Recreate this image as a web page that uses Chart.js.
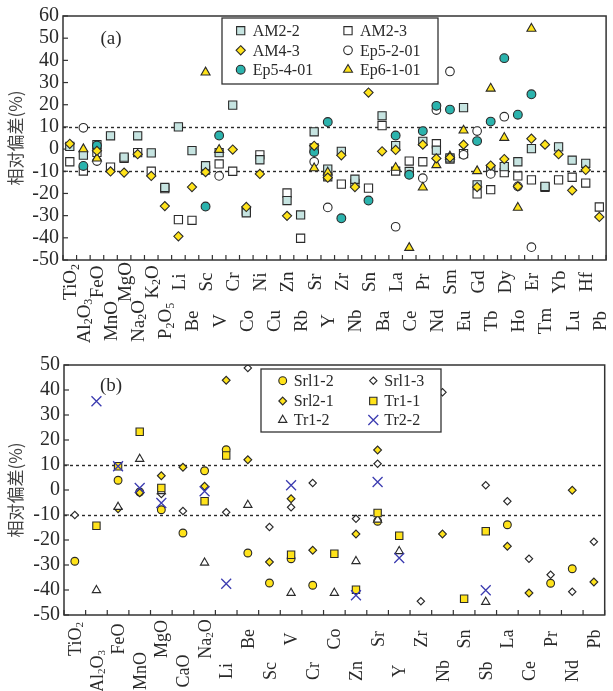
<!DOCTYPE html>
<html>
<head>
<meta charset="utf-8">
<script src="https://cdn.jsdelivr.net/npm/chart.js@4.4.1/dist/chart.umd.min.js"></script>
<style>
  body { margin: 0; background: #fff; }
  canvas { display: block; }
</style>
</head>
<body>
<canvas id="chartA" width="613" height="345"></canvas>
<canvas id="chartB" width="613" height="346"></canvas>
<script>
// ---- panel (a) data ----
const catsA = ['TiO2','Al2O3','FeO','MnO','MgO','Na2O','K2O','P2O5','Li','Be',
  'Sc','V','Cr','Co','Ni','Cu','Zn','Rb','Sr','Y',
  'Zr','Nb','Sn','Ba','La','Ce','Pr','Nd','Sm','Eu',
  'Gd','Tb','Dy','Ho','Er','Tm','Yb','Lu','Hf','Pb'];
const ticksA = [-50, -40, -30, -20, -10, 0, 10, 20, 30, 40, 50, 60];

const am2_2 = [1.2,-2.7,2.0,6.0,-3.6,6.0,-1.7,-17.3,10.0,-0.7,
  -7.5,-1.6,19.8,-28.7,-4.8,null,-23.2,-29.7,7.8,-9.0,
  -1.0,-13.6,null,15.0,1.6,-10.1,3.5,-0.5,-4.0,18.7,
  -16.1,-9.5,-7.9,-5.7,0.2,-16.8,1.0,-5.0,-6.4,null];
const am2_3 = [-5.7,-9.9,-1.5,-8.1,-4.2,-1.6,-10.0,-17.8,-31.8,-32.1,
  -9.5,-6.7,-10.0,-28.0,-2.6,null,-19.8,-40.2,0.5,-12.5,
  -15.8,-15.5,-17.6,10.6,-9.9,-5.4,-5.7,2.4,-4.5,-2.0,
  -20.2,-18.3,-10.6,-12.1,-13.9,-17.2,-13.9,-12.7,-15.3,-26.1];
const am4_3 = [2.4,null,-0.8,-10.1,-10.6,-2.3,-12.1,-25.7,-39.3,-17.1,
  -10.4,null,-0.2,-26.1,-11.2,null,-30.1,null,1.5,-12.9,
  -2.8,-17.1,25.5,-1.0,-0.4,null,2.0,-4.2,-3.8,2.0,
  -17.1,-7.4,-4.5,-16.8,4.7,2.0,-2.3,-18.6,-9.4,-30.6];
const ep5_2 = [null,9.6,-5.4,null,null,null,null,null,null,null,
  null,-12.1,null,null,null,null,null,null,-5.7,-26.3,
  null,null,null,null,-35.0,null,-13.1,17.6,35.0,-2.6,
  8.1,-11.2,14.6,-16.8,-44.2,null,null,null,null,null];
const ep5_4 = [null,-7.6,1.6,null,null,null,null,null,null,null,
  -25.9,6.1,null,null,null,null,null,null,-1.3,12.2,
  -31.2,null,-23.2,null,6.1,-11.6,8.1,19.5,17.8,null,
  3.6,12.4,41.0,15.5,24.7,null,null,null,null,null];
const ep6_1 = [null,0,-4.2,null,null,null,null,null,null,null,
  34.6,-0.3,null,null,null,null,null,null,-8.6,-10.5,
  null,null,null,null,-8.4,-44.5,-17.3,-7.2,-3.3,8.4,
  -9.9,27.3,5.1,-26.4,54.3,null,null,null,null,null];

// ---- panel (b) data ----
const catsB = ['TiO2','Al2O3','FeO','MnO','MgO','CaO','Na2O','Li','Be','Sc',
  'V','Cr','Co','Zn','Sr','Y','Zr','Nb','Sn','Sb','La','Ce','Pr','Nd','Pb'];
const ticksB = [-50, -40, -30, -20, -10, 0, 10, 20, 30, 40, 50];

const srl1_2 = [-28.5,null,3.9,-0.8,-7.9,-17.2,7.7,16.1,-25.2,-37.2,
  -27.5,-38.1,null,null,-12.5,null,null,null,null,null,-13.9,null,-37.3,-31.5,null];
const srl1_3 = [-10.0,null,null,null,-1.6,-8.4,null,-8.9,48.8,-14.8,
  -6.9,2.8,null,-11.5,10.5,null,-44.5,39.1,null,1.9,-4.5,-27.5,-33.9,-40.7,-20.7];
const srl2_1 = [null,null,-7.5,-1.1,5.7,9.1,1.5,43.9,12.1,-28.8,
  -3.5,-24.1,null,-17.6,16.0,null,null,-17.6,null,null,-22.5,-41.2,null,-0.1,-36.8];
const tr1_1 = [null,-14.3,9.5,23.3,0.8,null,-4.5,13.8,null,null,
  -25.9,null,-25.5,-39.9,-9.2,-18.3,null,null,-43.5,-16.5,null,null,null,null,null];
const tr1_2 = [null,-40.1,-6.8,12.4,-0.5,null,-29.1,null,-6.0,null,
  -41.2,null,-41.2,-28.5,-11.9,-24.5,null,null,null,-44.8,null,null,null,null,null];
const tr2_2 = [null,35.5,9.5,0.8,-5.2,null,-0.5,-37.5,null,null,
  1.9,null,null,-42.1,3.2,-27.2,null,null,null,-40.1,null,null,null,null,null];

// reference band (dotted lines)
const bandLines = [10, -10];

const YELLOW = '#ffe31a';
const INK = '#2a2a2a';

const seriesA = [
  { name: 'AM2-2',    data: am2_2, style: 'rect',     r: 5.8, fill: '#c6e4e1', order: 5 },
  { name: 'AM2-3',    data: am2_3, style: 'rect',     r: 5.8, fill: '#ffffff', order: 6 },
  { name: 'AM4-3',    data: am4_3, style: 'rectRot',  r: 4.6, fill: YELLOW,    order: 1 },
  { name: 'Ep5-2-01', data: ep5_2, style: 'circle',   r: 4.3, fill: '#ffffff', order: 4 },
  { name: 'Ep5-4-01', data: ep5_4, style: 'circle',   r: 4.4, fill: '#2bb3ad', order: 3 },
  { name: 'Ep6-1-01', data: ep6_1, style: 'triangle', r: 5.2, fill: YELLOW,    order: 2 }
];
const seriesB = [
  { name: 'Srl1-2', data: srl1_2, style: 'circle',   r: 3.9, fill: YELLOW,    order: 6 },
  { name: 'Srl1-3', data: srl1_3, style: 'rectRot',  r: 3.7, fill: '#ffffff', order: 5 },
  { name: 'Srl2-1', data: srl2_1, style: 'rectRot',  r: 3.9, fill: YELLOW,    order: 4 },
  { name: 'Tr1-1',  data: tr1_1,  style: 'rect',     r: 5.2, fill: YELLOW,    order: 2 },
  { name: 'Tr1-2',  data: tr1_2,  style: 'triangle', r: 4.8, fill: '#ffffff', order: 3 },
  { name: 'Tr2-2',  data: tr2_2,  style: 'crossRot', r: 7.0, fill: '#3b3bb0', line: '#3b3bb0', order: 1 }
];

function drawMarker(ctx, s, x, y) {
  const r = s.r;
  ctx.save();
  ctx.fillStyle = s.fill;
  ctx.strokeStyle = s.line || INK;
  ctx.lineWidth = s.style === 'crossRot' ? 1.3 : 1.1;
  ctx.beginPath();
  if (s.style === 'circle') {
    ctx.arc(x, y, r, 0, Math.PI * 2);
  } else if (s.style === 'rect') {
    const h = r * Math.SQRT1_2;
    ctx.rect(x - h, y - h, 2 * h, 2 * h);
  } else if (s.style === 'rectRot') {
    ctx.moveTo(x, y - r); ctx.lineTo(x + r, y); ctx.lineTo(x, y + r); ctx.lineTo(x - r, y); ctx.closePath();
  } else if (s.style === 'triangle') {
    let a = 0;
    ctx.moveTo(x + Math.sin(a) * r, y - Math.cos(a) * r);
    a += Math.PI * 2 / 3; ctx.lineTo(x + Math.sin(a) * r, y - Math.cos(a) * r);
    a += Math.PI * 2 / 3; ctx.lineTo(x + Math.sin(a) * r, y - Math.cos(a) * r);
    ctx.closePath();
  } else if (s.style === 'crossRot') {
    const c = r * Math.SQRT1_2;
    ctx.moveTo(x - c, y - c); ctx.lineTo(x + c, y + c);
    ctx.moveTo(x + c, y - c); ctx.lineTo(x - c, y + c);
    ctx.stroke(); ctx.restore();
    return;
  }
  ctx.fill(); ctx.stroke();
  ctx.restore();
}

// rotated category label, digits drawn as subscripts
function drawRotLabel(ctx, text, x, yc, size) {
  const runs = [];
  for (const ch of text) {
    const sub = /[0-9]/.test(ch);
    if (runs.length && runs[runs.length - 1].sub === sub) runs[runs.length - 1].t += ch;
    else runs.push({ t: ch, sub: sub });
  }
  const subSize = Math.round(size * 0.62);
  let total = 0;
  runs.forEach(function(r) {
    ctx.font = (r.sub ? subSize : size) + 'px "Liberation Serif"';
    r.w = ctx.measureText(r.t).width;
    total += r.w;
  });
  ctx.save();
  ctx.translate(x, yc);
  ctx.rotate(-Math.PI / 2);
  ctx.fillStyle = INK;
  ctx.textAlign = 'left';
  ctx.textBaseline = 'alphabetic';
  let cx = -total / 2;
  const base = size * 0.34;
  runs.forEach(function(r) {
    ctx.font = (r.sub ? subSize : size) + 'px "Liberation Serif"';
    ctx.fillText(r.t, cx, r.sub ? base + size * 0.12 : base);
    cx += r.w;
  });
  ctx.restore();
}

const panelPlugin = {
  id: 'panel',
  beforeDatasetsDraw(chart, args, opts) {
    const ctx = chart.ctx;
    const a = chart.chartArea;
    const xs = chart.scales.x, ys = chart.scales.y;
    ctx.save();
    // dotted band lines
    ctx.strokeStyle = INK;
    ctx.lineWidth = 1.4;
    ctx.setLineDash([3, 3]);
    bandLines.forEach(function(v) {
      const y = Math.round(ys.getPixelForValue(v)) + 0.5;
      ctx.beginPath(); ctx.moveTo(a.left, y); ctx.lineTo(a.right, y); ctx.stroke();
    });
    ctx.setLineDash([]);
    // frame
    ctx.lineWidth = 1.5;
    ctx.strokeStyle = '#333';
    ctx.strokeRect(a.left, a.top, a.right - a.left, a.bottom - a.top);
    // inward ticks on y
    ctx.lineWidth = 1.2;
    opts.yTicks.forEach(function(v) {
      const y = ys.getPixelForValue(v);
      ctx.beginPath(); ctx.moveTo(a.left, y); ctx.lineTo(a.left + 5, y); ctx.stroke();
    });
    // inward ticks on x at category boundaries
    const n = chart.data.labels.length;
    const half = (xs.getPixelForValue(1) - xs.getPixelForValue(0)) / 2;
    for (let i = 0; i <= n; i++) {
      const x = i < n ? xs.getPixelForValue(i) - half : xs.getPixelForValue(n - 1) + half;
      ctx.beginPath(); ctx.moveTo(x, a.bottom); ctx.lineTo(x, a.bottom - 5); ctx.stroke();
    }
    ctx.restore();
  },
  afterDraw(chart, args, opts) {
    const ctx = chart.ctx;
    const a = chart.chartArea;
    const xs = chart.scales.x;
    // category labels in two staggered rows
    chart.data.labels.forEach(function(lab, i) {
      drawRotLabel(ctx, lab, xs.getPixelForValue(i), opts.labelRows[i % 2], opts.labelSize);
    });
    // panel tag
    ctx.save();
    ctx.fillStyle = INK;
    ctx.font = '19px "Liberation Serif"';
    ctx.textAlign = 'center';
    ctx.textBaseline = 'middle';
    ctx.fillText(opts.tag, a.left + opts.tagPos[0], a.top + opts.tagPos[1]);
    // legend box
    const L = opts.legend;
    ctx.lineWidth = 1.3;
    ctx.strokeStyle = '#333';
    ctx.fillStyle = '#fff';
    ctx.fillRect(L.x, L.y, L.w, L.h);
    ctx.strokeRect(L.x, L.y, L.w, L.h);
    ctx.font = '16px "Liberation Serif"';
    ctx.textAlign = 'left';
    ctx.textBaseline = 'middle';
    opts.series.forEach(function(s, i) {
      const col = i % 2, row = Math.floor(i / 2);
      const mx = L.colX[col], my = L.rowY[row];
      drawMarker(ctx, s, mx, my);
      ctx.fillStyle = INK;
      ctx.fillText(s.name, mx + L.gap, my + 1);
    });
    ctx.restore();
  }
};

function buildPanel(id, labels, series, yMin, yMax, yTicks, lay) {
  return new Chart(document.getElementById(id), {
    type: 'line',
    data: {
      labels: labels,
      datasets: series.map(function(s) {
        return {
          label: s.name,
          data: s.data,
          showLine: false,
          order: s.order,
          pointStyle: s.style,
          pointRadius: s.r,
          pointHoverRadius: s.r,
          pointBackgroundColor: s.fill,
          pointBorderColor: s.line || INK,
          pointBorderWidth: s.style === 'crossRot' ? 1.3 : 1.1
        };
      })
    },
    options: {
      responsive: false,
      animation: false,
      devicePixelRatio: 1,
      layout: { padding: { top: lay.top, right: lay.right, left: 0, bottom: 0 } },
      plugins: {
        legend: { display: false },
        tooltip: { enabled: false },
        panel: Object.assign({ series: series, yTicks: yTicks }, lay)
      },
      scales: {
        x: {
          type: 'category',
          offset: true,
          grid: { display: false },
          border: { display: false },
          ticks: { display: false },
          afterFit: function(s) { s.height = lay.xAxisHeight; }
        },
        y: {
          min: yMin,
          max: yMax,
          afterBuildTicks: function(s) { s.ticks = yTicks.map(function(v) { return { value: v }; }); },
          ticks: { autoSkip: false, padding: 4, color: INK, font: { family: 'Liberation Serif', size: 20 } },
          grid: { display: false, drawTicks: false },
          border: { display: false },
          title: {
            display: true,
            text: '相对偏差(%)',
            color: '#444',
            font: { family: 'Noto Sans CJK SC', size: 17 },
            padding: { top: 5, bottom: 0 }
          },
          afterFit: function(s) { s.width = lay.yAxisWidth; }
        }
      }
    },
    plugins: [panelPlugin]
  });
}

buildPanel('chartA', catsA, seriesA, -50, 60, ticksA, {
  top: 14, right: 6, xAxisHeight: 85, yAxisWidth: 63,
  labelRows: [282, 321], labelSize: 19,
  tag: '(a)', tagPos: [48, 23],
  legend: { x: 222, y: 18, w: 216, h: 66, colX: [240.7, 348], rowY: [30.7, 50.3, 69.7], gap: 12 }
});

buildPanel('chartB', catsB, seriesB, -50, 50, ticksB, {
  top: 20, right: 5, xAxisHeight: 76, yAxisWidth: 64,
  labelRows: [294, 326], labelSize: 18,
  tag: '(b)', tagPos: [47, 21],
  legend: { x: 261, y: 24, w: 180, h: 63, colX: [282.7, 373.3], rowY: [35.7, 56, 75], gap: 11 }
});
</script>
</body>
</html>
